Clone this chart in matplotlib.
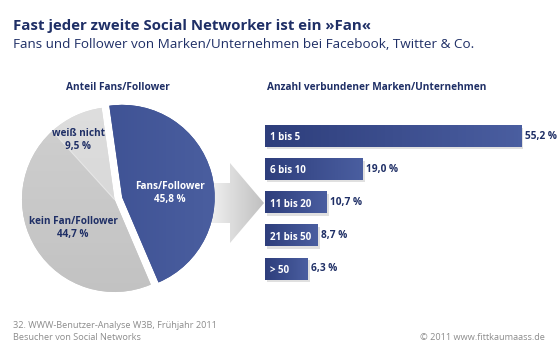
import matplotlib.pyplot as plt
import numpy as np
from matplotlib.patches import Polygon
from matplotlib.colors import LinearSegmentedColormap

# data
pie_labels = ['Fans/Follower', 'kein Fan/Follower', 'weiß nicht']
pie_values = [45.8, 44.7, 9.5]
pie_texts = ['45,8 %', '44,7 %', '9,5 %']

bar_labels = ['1 bis 5', '6 bis 10', '11 bis 20', '21 bis 50', '> 50']
bar_values = [55.2, 19.0, 10.7, 8.7, 6.3]

navy = '#1f2f66'
grey_txt = '#8c8c8c'
W, H = 560, 350

plt.rcParams['font.family'] = ['Open Sans', 'DejaVu Sans']

fig = plt.figure(figsize=(W / 100, H / 100), dpi=100)


def px_axes(x0, y0, x1, y1, z=0):
    ax = fig.add_axes([x0 / W, 1 - y1 / H, (x1 - x0) / W, (y1 - y0) / H])
    ax.set_zorder(z)
    return ax


def cmap(c0, c1):
    return LinearSegmentedColormap.from_list('g', [c0, c1])


hgrad = np.linspace(0, 1, 64)[None, :]
vgrad = np.linspace(0, 1, 64)[:, None]

# titles
fig.text(13 / W, 1 - 30 / H, 'Fast jeder zweite Social Networker ist ein »Fan«',
         fontsize=10.8, fontweight='bold', color=navy)
fig.text(13 / W, 1 - 48 / H, 'Fans und Follower von Marken/Unternehmen bei Facebook, Twitter & Co.',
         fontsize=9.7, color=navy)
fig.text(118 / W, 1 - 90 / H, 'Anteil Fans/Follower', fontsize=7.3, color=navy,
         ha='center', fontweight='bold')
fig.text(267 / W, 1 - 90 / H, 'Anzahl verbundener Marken/Unternehmen', fontsize=7.3,
         color=navy, fontweight='bold')
fig.text(13 / W, 1 - 328 / H, '32. WWW-Benutzer-Analyse W3B, Frühjahr 2011',
         fontsize=6.6, color=grey_txt)
fig.text(13 / W, 1 - 339.5 / H, 'Besucher von Social Networks', fontsize=6.6, color=grey_txt)
fig.text(545 / W, 1 - 339.5 / H, '© 2011 www.fittkaumaass.de', fontsize=6.6,
         color=grey_txt, ha='right')

# arrow between the two charts
axa = px_axes(0, 0, W, H, z=0)
arrow = Polygon([(210, 183), (230, 183), (230, 163), (264, 203), (230, 243),
                 (230, 223), (210, 223)], closed=True, facecolor='none', edgecolor='none')
axa.add_patch(arrow)
im = axa.imshow(hgrad, extent=(210, 264, 243, 163), cmap=cmap('#f0f0f0', '#c0c0c0'),
                aspect='auto', zorder=1)
im.set_clip_path(arrow)
axa.set_xlim(0, W)
axa.set_ylim(H, 0)
axa.axis('off')

# pie
axp = px_axes(14.5, 99.5, 214.5, 299.5, z=1)
wedges, _ = axp.pie(pie_values, colors=['#3d5192', '#c8c8c8', '#d9d9d9'], startangle=98,
                    counterclock=False, radius=92.5, explode=[8, 0, 0],
                    wedgeprops=dict(edgecolor='none'))
ext = (-100, 100, -100, 100)
fills = [(hgrad, cmap('#36498c', '#4a5e9f')),
         (vgrad, cmap('#c2c2c2', '#d0d0d0')),
         (vgrad, cmap('#d4d4d4', '#dedede'))]
for w, (g, cm) in zip(wedges, fills):
    img = axp.imshow(g, extent=ext, cmap=cm, aspect='auto', origin='lower', zorder=2)
    img.set_clip_path(w)
ang = np.radians(98 + 360 * pie_values[2] / 100)
axp.plot([0, 92.5 * np.cos(ang)], [0, 92.5 * np.sin(ang)], color='#e6e6e6', lw=0.8, zorder=3)
axp.set_xlim(-100, 100)
axp.set_ylim(-100, 100)
axp.set_aspect('equal')
axp.axis('off')
label_pos = [(55.5, 6.5, 'white'), (-41.5, -28.5, navy), (-36.5, 59.5, navy)]
for (x, y, c), lab, t in zip(label_pos, pie_labels, pie_texts):
    axp.text(x, y, lab + '\n' + t, color=c, fontsize=7.2, fontweight='bold',
             ha='center', va='center', linespacing=1.35, zorder=4)

# bars
base = 3.4
axb = px_axes(265, 119.4, 560, 285.4, z=2)
ypos = np.arange(len(bar_values))
bh = 0.65
axb.barh(ypos + 0.07, np.array(bar_values) + base, height=bh, left=-base + 0.5,
         color='#9a9a9a', alpha=0.3, zorder=1)
for y, v in zip(ypos, bar_values):
    axb.imshow(hgrad, extent=(-base, v, y + bh / 2, y - bh / 2),
               cmap=cmap('#2e3e7c', '#4a5ea0'), aspect='auto', zorder=2)
axb.set_xlim(-base, 295 / 4.37 - base)
axb.set_ylim(4.5, -0.5)
axb.axis('off')
for y, v, lab in zip(ypos, bar_values, bar_labels):
    axb.text(-base + 1.2, y + 0.05, lab, color='white', fontsize=7, fontweight='bold',
             va='center', ha='left', zorder=3)
    axb.text(v + 0.8, y, f'{v:.1f} %'.replace('.', ','), color=navy, fontsize=7.3,
             fontweight='bold', va='center', ha='left', zorder=3)

fig.savefig('out.png', dpi=100)
